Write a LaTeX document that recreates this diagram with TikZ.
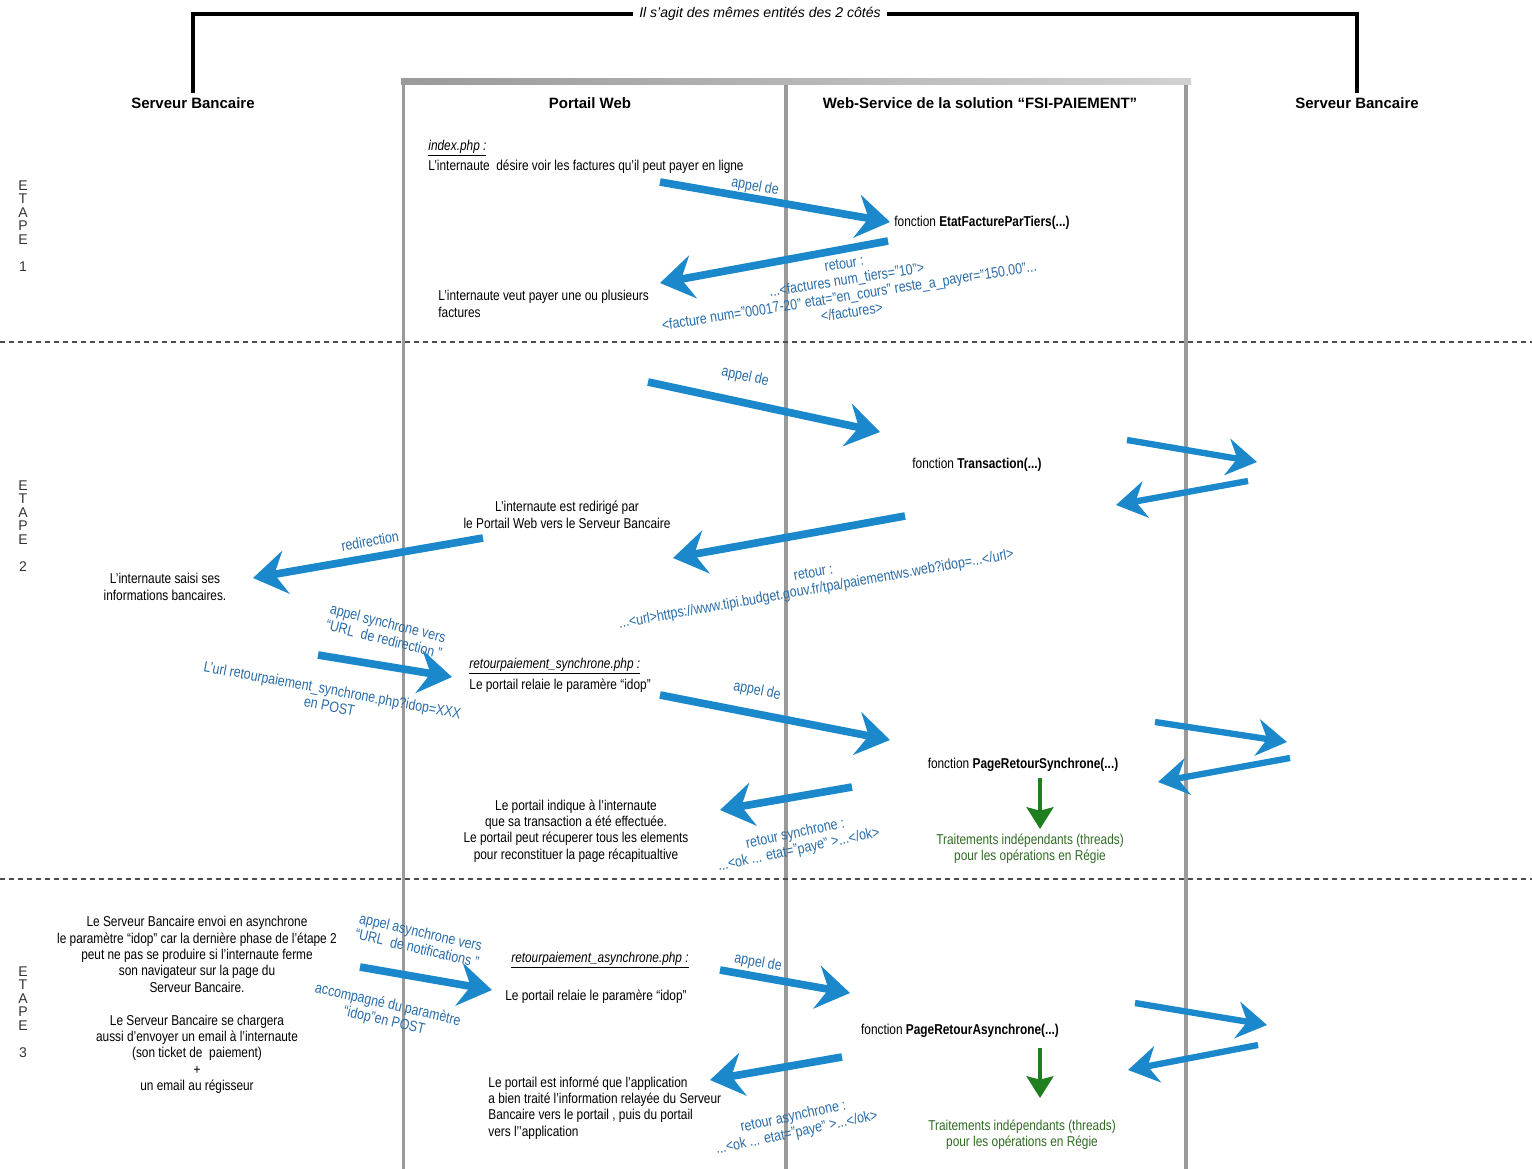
\documentclass[tikz,border=0pt]{standalone}
\usepackage{fontspec}
\setmainfont{Liberation Sans}[FakeStretch=0.83]
\newfontfamily\headfont{Liberation Sans}
\usepackage{tikz}
\usetikzlibrary{arrows.meta}
\usetikzlibrary{graphs}
\definecolor{flowblue}{HTML}{1B88CC}
\definecolor{labelblue}{HTML}{2A6CA8}
\definecolor{threadgreen}{HTML}{1F7F1F}
\definecolor{threadtext}{HTML}{2E6B22}
\definecolor{lanegray}{HTML}{9A9A9A}

\tikzset{
  txt/.style={font=\fontsize{12.2}{14}\selectfont, inner sep=1pt, align=center},
  ltxt/.style={txt, align=left, anchor=west},
  lbl/.style={txt, font=\fontsize{12.8}{14}\selectfont, text=labelblue},
  thread/.style={txt, text=threadtext},
  head/.style={font=\headfont\bfseries\fontsize{12.8}{15}\selectfont, inner sep=2pt},
  note/.style={font=\headfont\itshape\fontsize{12}{14}\selectfont, fill=white, inner xsep=5pt},
  etape/.style={font=\headfont\fontsize{12}{11.5}\selectfont, align=center, text=black!80},
  lane/.style={draw=lanegray, line width=1mm},
  stepline/.style={draw=black!70, line width=0.35mm, dash pattern=on 1.5mm off 1.2mm},
  bracket/.style={draw=black, line width=1mm, shorten <=2pt},
  flow/.style={draw=flowblue, line width=2.3mm, -{Stealth[length=10mm, width=13mm, inset=3.5mm]}},
  bankflow/.style={draw=flowblue, line width=1.9mm, -{Stealth[length=9mm, width=11mm, inset=3mm]}},
  threadflow/.style={draw=threadgreen, line width=1.3mm, -{Stealth[length=6.5mm, width=8mm, inset=1mm]}}
}

\begin{document}
\begin{tikzpicture}[x=0.3mm, y=-0.3mm]
\useasboundingbox (0,0) rectangle (1532,1169);

\shade[left color=lanegray, right color=lanegray!45] (401,79) rectangle (1191,85);
\draw[lane] (403.5,80) -- (403.5,1169);
\draw[lane] (786,85) -- (786,1169);
\draw[lane] (1186,85) -- (1186,1169);
\draw[stepline] (0,342) -- (1532,342);
\draw[stepline] (0,879) -- (1532,879);

\node[head] (sbl) at (193,103) {Serveur Bancaire};
\node[head] (pw) at (590,103) {Portail Web};
\node[head] (ws) at (980,103) {Web-Service de la solution “FSI-PAIEMENT”};
\node[head] (sbr) at (1357,103) {Serveur Bancaire};
\node[note] (same) at (760,14) {Il s’agit des mêmes entités des 2 côtés};
\draw[bracket] (sbl.north) |- (same.west);
\draw[bracket] (sbr.north) |- (same.east);

\node[etape] (e1) at (23,226) {E\\T\\A\\P\\E\\[11.5pt]1};
\node[etape] (e2) at (23,526) {E\\T\\A\\P\\E\\[11.5pt]2};
\node[etape] (e3) at (23,1012) {E\\T\\A\\P\\E\\[11.5pt]3};

\node[ltxt] (idx) at (427,148) {\itshape\underline{index.php :}};
\node[ltxt] (desire) at (427,167) {L’internaute~ désire voir les factures qu’il peut payer en ligne};
\coordinate (c1a) at (660,182);
\coordinate (c1b) at (890,222);
\node[lbl, rotate=-10] (appel1) at (755,187) {appel de};
\node[ltxt] (etat) at (893,223) {fonction \textbf{EtatFactureParTiers(...)}};
\coordinate (c1c) at (888,241);
\coordinate (c1d) at (660,283);
\node[lbl, rotate=9] (retour1) at (848,288) {retour :\\...<factures num\_tiers="10">\\<facture num="00017-20" etat="en\_cours" reste\_a\_payer="150.00"...\\</factures>};
\node[ltxt] (veut) at (437,304) {L’internaute veut payer une ou plusieurs\\factures};

\coordinate (c2a) at (648,382);
\coordinate (c2b) at (880,432);
\node[lbl, rotate=-12] (appel2) at (745,377) {appel de};
\node[txt] (trans) at (977,465) {fonction \textbf{Transaction(...)}};
\coordinate (b2a) at (1127,440);
\coordinate (b2b) at (1257,462);
\coordinate (b2c) at (1248,481);
\coordinate (b2d) at (1116,505);
\node[txt] (redir) at (567,515) {L’internaute est redirigé par\\le Portail Web vers le Serveur Bancaire};
\coordinate (c2c) at (905,516);
\coordinate (c2d) at (673,558);
\node[lbl, rotate=10] (retour2) at (815,582) {retour :\\...<url>https://www.tipi.budget.gouv.fr/tpa/paiementws.web?idop=...</url>};
\node[lbl, rotate=10] (redirl) at (370,541) {redirection};
\coordinate (c2e) at (483,538);
\coordinate (c2f) at (253,578);
\node[txt] (saisi) at (165,587) {L’internaute saisi ses\\informations bancaires.};
\node[lbl, rotate=-14] (synch) at (386,631) {appel synchrone vers\\“URL~ de redirection ”};
\coordinate (c2g) at (318,655);
\coordinate (c2h) at (452,677);
\node[lbl, rotate=-10.5] (urlpost) at (331,698) {L’url retourpaiement\_synchrone.php?idop=XXX\\en POST};
\node[ltxt] (rsync) at (468,666) {\itshape\underline{retourpaiement\_synchrone.php :}};
\node[ltxt] (relaie2) at (468,686) {Le portail relaie le paramère “idop”};
\coordinate (c2i) at (660,695);
\coordinate (c2j) at (890,740);
\node[lbl, rotate=-11] (appel3) at (757,691) {appel de};
\node[txt] (prsync) at (1023,765) {fonction \textbf{PageRetourSynchrone(...)}};
\coordinate (g2a) at (1040,778);
\coordinate (g2b) at (1040,829);
\node[thread] (thr2) at (1030,849) {Traitements indépendants (threads)\\pour les opérations en Régie};
\coordinate (b2e) at (1155,722);
\coordinate (b2f) at (1287,742);
\coordinate (b2g) at (1290,758);
\coordinate (b2h) at (1158,782);
\coordinate (c2k) at (852,787);
\coordinate (c2l) at (720,810);
\node[lbl, rotate=12] (rsyncl) at (797,842) {retour synchrone :\\...<ok ... etat="paye" >...</ok>};
\node[txt] (indique) at (576,831) {Le portail indique à l’internaute\\que sa transaction a été effectuée.\\Le portail peut récuperer tous les elements\\pour reconstituer la page récapitualtive};

\node[txt] (envoi) at (197,1005) {Le Serveur Bancaire envoi en asynchrone\\le paramètre “idop” car la dernière phase de l’étape 2\\peut ne pas se produire si l’internaute ferme\\son navigateur sur la page du\\Serveur Bancaire.\\[14pt]Le Serveur Bancaire se chargera\\aussi d’envoyer un email à l’internaute\\(son ticket de~ paiement)\\+\\un email au régisseur};
\node[lbl, rotate=-13] (asynch) at (419,940) {appel asynchrone vers\\“URL~ de notifications ”};
\coordinate (c3a) at (360,967);
\coordinate (c3b) at (492,990);
\node[lbl, rotate=-13] (accomp) at (386,1013) {accompagné du paramètre\\“idop”en POST};
\node[txt] (rasync) at (600,960) {\itshape\underline{retourpaiement\_asynchrone.php :}};
\node[txt] (relaie3) at (596,997) {Le portail relaie le paramère “idop”};
\coordinate (c3c) at (720,970);
\coordinate (c3d) at (850,993);
\node[lbl, rotate=-10] (appel4) at (758,963) {appel de};
\node[txt] (prasync) at (960,1031) {fonction \textbf{PageRetourAsynchrone(...)}};
\coordinate (g3a) at (1040,1048);
\coordinate (g3b) at (1040,1098);
\node[thread] (thr3) at (1022,1135) {Traitements indépendants (threads)\\pour les opérations en Régie};
\coordinate (b3a) at (1135,1003);
\coordinate (b3b) at (1267,1025);
\coordinate (b3c) at (1258,1045);
\coordinate (b3d) at (1128,1070);
\coordinate (c3e) at (842,1057);
\coordinate (c3f) at (710,1080);
\node[lbl, rotate=12] (rasyncl) at (795,1125) {retour asynchrone :\\...<ok ... etat="paye" >...</ok>};
\node[ltxt] (informe) at (487,1108) {Le portail est informé que l’application\\a bien traité l’information relayée du Serveur\\Bancaire vers le portail , puis du portail\\vers l’’application};

\graph {(c1a) --[flow] (c1b)};
\graph {(c1c) --[flow] (c1d)};
\graph {(c2a) --[flow] (c2b)};
\graph {(c2c) --[flow] (c2d)};
\graph {(c2e) --[flow] (c2f)};
\graph {(c2g) --[flow] (c2h)};
\graph {(c2i) --[flow] (c2j)};
\graph {(c2k) --[flow] (c2l)};
\graph {(b2a) --[bankflow] (b2b)};
\graph {(b2c) --[bankflow] (b2d)};
\graph {(b2e) --[bankflow] (b2f)};
\graph {(b2g) --[bankflow] (b2h)};
\graph {(g2a) --[threadflow] (g2b)};
\graph {(c3a) --[flow] (c3b)};
\graph {(c3c) --[flow] (c3d)};
\graph {(c3e) --[flow] (c3f)};
\graph {(b3a) --[bankflow] (b3b)};
\graph {(b3c) --[bankflow] (b3d)};
\graph {(g3a) --[threadflow] (g3b)};
\end{tikzpicture}
\end{document}
